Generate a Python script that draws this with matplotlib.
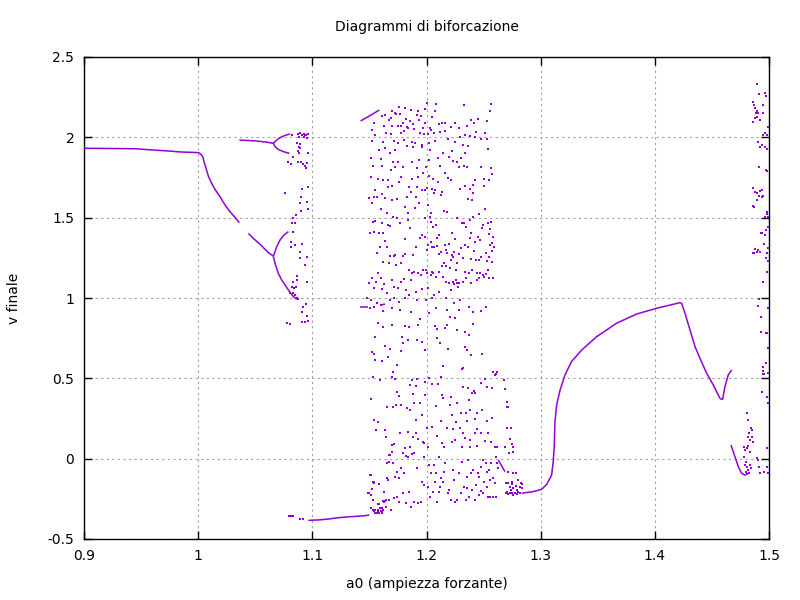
import numpy as np
import matplotlib
matplotlib.use("Agg")
import matplotlib.pyplot as plt

plt.rcParams['font.family'] = ['DejaVu Sans']

COLOR = "#9400D3"

title = "Diagrammi di biforcazione"
xlabel = "a0 (ampiezza forzante)"
ylabel = "v finale"
xticks = [0.9, 1.0, 1.1, 1.2, 1.3, 1.4, 1.5]
xtick_labels = ["0.9", "1", "1.1", "1.2", "1.3", "1.4", "1.5"]
yticks = [-0.5, 0, 0.5, 1, 1.5, 2, 2.5]
ytick_labels = ["-0.5", "0", "0.5", "1", "1.5", "2", "2.5"]

# ---- continuous branches (x, v) ----
branch_main = [(0.9, 1.932), (0.9447, 1.929), (0.9607, 1.921), (0.9739, 1.915), (0.9841, 1.909),
               (1.0002, 1.905), (1.0022, 1.896), (1.004, 1.880), (1.0051, 1.849), (1.0069, 1.807),
               (1.0089, 1.759), (1.0118, 1.714), (1.0148, 1.676), (1.0191, 1.631), (1.0235, 1.579),
               (1.0279, 1.537), (1.0323, 1.502), (1.0361, 1.469)]
branch_mid = [(1.044, 1.402), (1.0483, 1.371), (1.0542, 1.334), (1.0586, 1.303), (1.0615, 1.282),
              (1.0644, 1.268), (1.0659, 1.26)]
branch_mid_up = [(1.0659, 1.26), (1.0688, 1.319), (1.0717, 1.361), (1.0752, 1.392), (1.079, 1.413)]
branch_mid_low = [(1.0659, 1.26), (1.0673, 1.216), (1.0702, 1.153), (1.0732, 1.112), (1.0761, 1.081),
                  (1.079, 1.050), (1.0834, 1.008), (1.0863, 0.992)]
branch_top = [(1.0361, 1.983), (1.0500, 1.978), (1.0600, 1.970), (1.0659, 1.963)]
branch_top_up = [(1.0659, 1.963), (1.0688, 1.983), (1.0717, 1.998), (1.0761, 2.012), (1.0805, 2.021)]
branch_top_low = [(1.0659, 1.963), (1.0673, 1.942), (1.0702, 1.925), (1.0746, 1.911), (1.0799, 1.900)]
branch_bottom = [(1.0965, -0.384), (1.1061, -0.381), (1.114, -0.376), (1.1207, -0.369),
                 (1.1295, -0.363), (1.1447, -0.356), (1.1499, -0.351)]
branch_win_top = [(1.1423, 2.102), (1.1500, 2.133), (1.1587, 2.170)]
branch_win_mid = [(1.1417, 0.942), (1.1490, 0.942)]
branch_win_mid2 = [(1.1592, 0.956), (1.1636, 0.962)]
branch_diag = [(1.2629, -0.008), (1.2687, -0.081)]
branch_rise = [(1.2833, -0.216), (1.2863, -0.212), (1.2935, -0.205), (1.3009, -0.191), (1.3053, -0.160),
               (1.3096, -0.102), (1.311, -0.019), (1.3119, 0.074), (1.3125, 0.230), (1.314, 0.334),
               (1.317, 0.427), (1.3213, 0.521), (1.327, 0.604), (1.3359, 0.676), (1.349, 0.759),
               (1.3665, 0.843), (1.384, 0.900), (1.4016, 0.936), (1.422, 0.971), (1.4235, 0.967),
               (1.4264, 0.905), (1.4308, 0.801), (1.4352, 0.697), (1.4395, 0.625), (1.4454, 0.531),
               (1.4512, 0.459), (1.457, 0.376), (1.4585, 0.370), (1.4594, 0.370), (1.4614, 0.448),
               (1.4643, 0.521), (1.4673, 0.552)]
branch_v2 = [(1.4667, 0.085), (1.4702, 0.012), (1.4731, -0.05), (1.476, -0.091), (1.479, -0.102),
             (1.4819, -0.091)]

branches = [branch_main, branch_mid, branch_mid_up, branch_mid_low, branch_top, branch_top_up,
            branch_top_low, branch_bottom, branch_win_top, branch_win_mid, branch_win_mid2,
            branch_diag, branch_rise, branch_v2]

# ---- scattered (chaotic) points ----
chaos_left = [(1.0874, 2.021), (1.0896, 2.025), (1.0911, 2.015), (1.0925, 2.019), (1.0939, 2.015),
              (1.0948, 2.017), (1.0962, 2.019), (1.0819, 2.017), (1.0881, 2.004), (1.0931, 2.004),
              (1.0953, 1.994), (1.0869, 1.963), (1.0894, 1.956), (1.0884, 1.942), (1.0889, 1.932),
              (1.0876, 1.917), (1.0887, 1.900), (1.0959, 1.900), (1.0834, 1.876), (1.079, 1.849),
              (1.081, 1.834), (1.0872, 1.849), (1.0897, 1.849), (1.0916, 1.834), (1.0936, 1.822),
              (1.0951, 1.838), (1.0947, 1.807), (1.0761, 1.651), (1.0907, 1.676), (1.0959, 1.689),
              (1.0951, 1.600), (1.0903, 1.631), (1.0892, 1.589), (1.0959, 1.552), (1.0901, 1.541),
              (1.0857, 1.517), (1.0834, 1.496), (1.0848, 1.469), (1.0819, 1.469), (1.0834, 1.413),
              (1.0813, 1.351), (1.0816, 1.319), (1.0848, 1.330), (1.0907, 1.336), (1.0892, 1.288),
              (1.0896, 1.247), (1.0956, 1.253), (1.0936, 1.205), (1.0863, 1.137), (1.0867, 1.112),
              (1.0834, 1.102), (1.0819, 1.066), (1.0838, 1.060), (1.0857, 1.066), (1.0805, 1.033),
              (1.0834, 1.029), (1.0848, 1.019), (1.0863, 0.998), (1.0878, 0.992), (1.0945, 0.963),
              (1.0921, 0.942), (1.0907, 0.915), (1.0956, 0.888), (1.0907, 0.853), (1.0936, 0.853),
              (1.0965, 0.857), (1.0775, 0.846), (1.0805, 0.838), (1.0956, 1.102),
              (1.0798, -0.355), (1.0813, -0.356), (1.0828, -0.359), (1.0892, -0.378), (1.0921, -0.378)]

chaos_main_top = [
    (1.1761, 2.187), (1.1812, 2.185), (1.2003, 2.212), (1.2083, 2.208), (1.2331, 2.201), (1.2566, 2.205),
    (1.1694, 2.166), (1.1721, 2.151), (1.1866, 2.170), (1.1925, 2.163), (1.1991, 2.174), (1.2071, 2.166),
    (1.1611, 2.133), (1.1638, 2.141), (1.1737, 2.145), (1.1769, 2.147), (1.1913, 2.139), (1.1948, 2.131),
    (1.2052, 2.127), (1.2389, 2.108), (1.2447, 2.112), (1.2529, 2.104), (1.2553, 2.166),
    (1.1537, 2.091), (1.1672, 2.106), (1.1693, 2.118), (1.1821, 2.112), (1.1852, 2.102), (1.1934, 2.110),
    (1.1795, 2.089), (1.1878, 2.083), (1.1985, 2.087), (1.2107, 2.081), (1.2137, 2.091), (1.2165, 2.091),
    (1.2252, 2.089), (1.2412, 2.087), (1.2359, 2.072), (1.1627, 2.070), (1.1701, 2.068), (1.1749, 2.072),
    (1.1781, 2.070), (1.1829, 2.064), (1.1838, 2.058), (1.1891, 2.054), (1.1969, 2.056), (1.2029, 2.058),
    (1.2041, 2.043), (1.2121, 2.035), (1.2158, 2.041), (1.2217, 2.066), (1.1521, 2.046), (1.1546, 2.016),
    (1.1641, 2.025), (1.1686, 2.023), (1.1774, 2.029), (1.1807, 2.037), (1.1941, 2.025), (1.1978, 2.021),
    (1.2012, 2.019), (1.2066, 2.029), (1.2284, 2.056), (1.2377, 2.008), (1.2421, 2.004), (1.2431, 2.031),
    (1.2509, 2.025), (1.2339, 2.014),
    (1.1527, 1.979), (1.1619, 1.973), (1.1712, 1.979), (1.1746, 1.967), (1.1803, 1.983), (1.1873, 1.973),
    (1.1897, 1.967), (1.1962, 1.952), (1.2019, 1.963), (1.2074, 1.977), (1.2189, 1.988), (1.2248, 1.973),
    (1.2296, 2.000), (1.2318, 1.952), (1.2366, 1.946), (1.2481, 1.988), (1.2527, 1.988), (1.1581, 1.921),
    (1.1635, 1.931), (1.1728, 1.921), (1.1677, 1.904), (1.1833, 1.946), (1.1881, 1.942), (1.1957, 1.938),
    (1.2031, 1.921), (1.2146, 1.900), (1.2227, 1.915), (1.2334, 1.904), (1.2542, 1.925), (1.1511, 1.869),
    (1.1603, 1.863), (1.1708, 1.848), (1.1752, 1.848), (1.1872, 1.848), (1.1936, 1.859), (1.2023, 1.859),
    (1.2098, 1.869), (1.2193, 1.880), (1.2271, 1.848), (1.2302, 1.869),
    (1.1533, 1.821), (1.1609, 1.821), (1.1724, 1.813), (1.1796, 1.817), (1.1918, 1.807), (1.1689, 1.797),
    (1.1966, 1.780), (1.1992, 1.813), (1.2118, 1.821), (1.2158, 1.776), (1.2236, 1.855), (1.2281, 1.817),
    (1.2327, 1.821), (1.2351, 1.813), (1.2478, 1.813), (1.2561, 1.807), (1.2577, 1.772), (1.1515, 1.751),
    (1.1576, 1.743), (1.1622, 1.734), (1.1664, 1.734), (1.1758, 1.724), (1.1778, 1.751), (1.1869, 1.743),
    (1.1929, 1.751), (1.2026, 1.759), (1.2058, 1.738), (1.2103, 1.724), (1.2186, 1.745), (1.2214, 1.734),
    (1.2426, 1.734), (1.2502, 1.738), (1.2549, 1.734), (1.2508, 1.699), (1.2404, 1.703), (1.2336, 1.697),
    (1.1548, 1.672), (1.1666, 1.689), (1.1696, 1.697), (1.1847, 1.693), (1.1921, 1.693), (1.2004, 1.683),
    (1.2048, 1.676), (1.2071, 1.672), (1.2139, 1.662), (1.2291, 1.676), (1.2384, 1.676), (1.1607, 1.647),
    (1.1563, 1.631), (1.1541, 1.626), (1.1494, 1.620), (1.1638, 1.620), (1.1697, 1.610), (1.1739, 1.614),
    (1.1826, 1.626), (1.1866, 1.662), (1.1912, 1.631), (1.1958, 1.672), (1.1983, 1.672), (1.2062, 1.651),
    (1.2131, 1.641), (1.2361, 1.614), (1.2397, 1.610), (1.2403, 1.651), (1.1519, 1.593), (1.1933, 1.589),
    (1.2017, 1.579),
    (1.1598, 1.554), (1.1811, 1.568), (1.1895, 1.558), (1.1651, 1.527), (1.1703, 1.506), (1.1741, 1.496),
    (1.1838, 1.527), (1.2036, 1.527), (1.2029, 1.506), (1.2157, 1.543), (1.2183, 1.537), (1.2409, 1.506),
    (1.2456, 1.523), (1.2513, 1.554), (1.1552, 1.481), (1.1532, 1.475), (1.1613, 1.465), (1.1663, 1.454),
    (1.1768, 1.469), (1.1842, 1.485), (1.1987, 1.496), (1.2042, 1.475), (1.2263, 1.496), (1.2329, 1.469),
    (1.2379, 1.485), (1.2497, 1.452), (1.2537, 1.465), (1.2568, 1.475), (1.2558, 1.427),
    (1.1508, 1.402), (1.1542, 1.413), (1.1583, 1.402), (1.1621, 1.402), (1.1682, 1.448), (1.1856, 1.433),
    (1.2061, 1.444), (1.2079, 1.454), (1.2219, 1.402), (1.2311, 1.465), (1.2344, 1.444), (1.2393, 1.402),
    (1.2482, 1.438), (1.2468, 1.361), (1.2544, 1.398), (1.2579, 1.377), (1.1637, 1.357), (1.1816, 1.365),
    (1.1943, 1.371), (1.1964, 1.392), (1.1991, 1.382), (1.2039, 1.350), (1.2106, 1.392), (1.2088, 1.371),
    (1.2163, 1.330), (1.2198, 1.336), (1.2251, 1.365), (1.2338, 1.330), (1.2381, 1.371), (1.2427, 1.350),
    (1.2451, 1.382), (1.2556, 1.330), (1.2589, 1.319), (1.2573, 1.344),
    (1.1589, 1.315), (1.1655, 1.319), (1.1566, 1.282), (1.1679, 1.261), (1.1711, 1.261), (1.1726, 1.265),
    (1.1791, 1.261), (1.1809, 1.274), (1.1884, 1.270), (1.1906, 1.319), (1.2014, 1.330), (1.2001, 1.299),
    (1.2044, 1.319), (1.2069, 1.319), (1.2096, 1.324), (1.2126, 1.288), (1.2109, 1.274), (1.2174, 1.299),
    (1.2181, 1.282), (1.2224, 1.268), (1.2243, 1.288), (1.2286, 1.274), (1.2301, 1.309), (1.2364, 1.319),
    (1.2418, 1.294), (1.2474, 1.257), (1.2518, 1.278), (1.2551, 1.257), (1.2578, 1.294), (1.2271, 1.216),
    (1.2316, 1.247), (1.2387, 1.240), (1.2433, 1.236), (1.2459, 1.236), (1.2534, 1.232), (1.2571, 1.226),
    (1.2228, 1.253), (1.2153, 1.216), (1.2213, 1.236), (1.1616, 1.226), (1.1669, 1.216), (1.1733, 1.205),
    (1.1776, 1.216), (1.1851, 1.174), (1.1891, 1.164), (1.1968, 1.174), (1.2008, 1.157), (1.2051, 1.164),
    (1.2112, 1.164), (1.2134, 1.199), (1.2169, 1.199), (1.2206, 1.184), (1.2258, 1.174), (1.2333, 1.164),
    (1.2373, 1.157), (1.2401, 1.174), (1.2446, 1.153), (1.2471, 1.157), (1.2491, 1.143), (1.2549, 1.122),
    (1.2538, 1.174), (1.2581, 1.122),
    (1.1497, 1.095), (1.1571, 1.157), (1.1526, 1.122), (1.1558, 1.102), (1.1601, 1.122), (1.1629, 1.087),
    (1.1702, 1.112), (1.1779, 1.102), (1.1803, 1.116), (1.1864, 1.112), (1.1877, 1.153), (1.1922, 1.153),
    (1.1949, 1.143), (1.1994, 1.174), (1.2036, 1.143), (1.2057, 1.157), (1.2081, 1.133), (1.2141, 1.133),
    (1.2168, 1.102), (1.2197, 1.095), (1.2229, 1.102), (1.2241, 1.087), (1.2256, 1.112), (1.2266, 1.095),
    (1.2288, 1.091), (1.2346, 1.122), (1.2391, 1.091), (1.2444, 1.112), (1.2462, 1.122), (1.2504, 1.133),
    (1.2521, 1.149), (1.1539, 1.060), (1.1614, 1.054), (1.1657, 1.029), (1.1718, 1.070), (1.1747, 1.060),
    (1.1818, 1.050), (1.1847, 1.018), (1.1908, 1.039), (1.1961, 1.054), (1.2009, 1.060), (1.2064, 1.018),
    (1.2111, 1.039), (1.2211, 1.050), (1.2273, 1.070), (1.2319, 1.102), (1.1481, 0.998), (1.1512, 0.987),
    (1.1569, 0.967), (1.1603, 0.956), (1.1676, 0.987), (1.1714, 0.998), (1.1763, 0.977), (1.1816, 0.998),
    (1.1919, 0.987), (1.1996, 0.987), (1.2052, 0.998), (1.2172, 0.998), (1.2244, 0.967), (1.2297, 0.987),
    (1.1506, 0.936), (1.1538, 0.946), (1.1618, 0.921), (1.1699, 0.936), (1.1771, 0.925), (1.1868, 0.915),
    (1.1939, 0.867), (1.2019, 0.904), (1.2086, 0.936), (1.2178, 0.925), (1.2202, 0.884), (1.2253, 0.873),
    (1.2289, 0.925), (1.2368, 0.946), (1.2407, 0.915), (1.2473, 0.921), (1.2524, 0.946)]

chaos_main_bottom = [
    (1.1571, 0.847), (1.1618, 0.817), (1.1702, 0.832), (1.1808, 0.826), (1.1851, 0.817), (1.1929, 0.832),
    (1.2077, 0.826), (1.2091, 0.805), (1.2158, 0.811), (1.2176, 0.832), (1.2263, 0.801), (1.2338, 0.790),
    (1.2369, 0.770), (1.2407, 0.838), (1.1552, 0.759), (1.1783, 0.755), (1.1837, 0.739), (1.1796, 0.718),
    (1.1914, 0.739), (1.1957, 0.728), (1.2089, 0.749), (1.2121, 0.718), (1.2341, 0.693), (1.2352, 0.676),
    (1.1639, 0.701), (1.1681, 0.680), (1.1527, 0.666), (1.1536, 0.651), (1.1548, 0.614), (1.1607, 0.608),
    (1.1666, 0.635), (1.1779, 0.670), (1.1988, 0.676), (1.2191, 0.680), (1.2388, 0.645), (1.2483, 0.651),
    (1.1741, 0.583), (1.1709, 0.541), (1.2147, 0.577), (1.2308, 0.556), (1.2319, 0.562), (1.2584, 0.541),
    (1.2617, 0.541), (1.2603, 0.521), (1.2611, 0.527),
    (1.1533, 0.506), (1.1592, 0.490), (1.1697, 0.506), (1.1728, 0.498), (1.1871, 0.490), (1.1921, 0.496),
    (1.1986, 0.479), (1.2024, 0.500), (1.2131, 0.506), (1.1739, 0.417), (1.1758, 0.390), (1.1853, 0.458),
    (1.1911, 0.452), (1.1884, 0.402), (1.2046, 0.465), (1.2103, 0.465), (1.2132, 0.396), (1.2148, 0.375),
    (1.2216, 0.382), (1.2366, 0.438), (1.2412, 0.423), (1.2324, 0.448), (1.2371, 0.365), (1.2398, 0.407),
    (1.2427, 0.407), (1.2481, 0.469), (1.2513, 0.494), (1.2534, 0.444), (1.2572, 0.438), (1.2682, 0.490),
    (1.2687, 0.432), (1.1518, 0.369), (1.1651, 0.319), (1.1708, 0.319), (1.1736, 0.334), (1.1781, 0.334),
    (1.1826, 0.313), (1.1859, 0.303), (1.1889, 0.344), (1.1942, 0.344), (1.1987, 0.396), (1.2087, 0.328),
    (1.2207, 0.334), (1.2263, 0.344), (1.2301, 0.282), (1.2348, 0.282), (1.2383, 0.303), (1.2438, 0.286),
    (1.2487, 0.303), (1.2526, 0.236), (1.2578, 0.251), (1.2702, 0.355), (1.2702, 0.324), (1.2717, 0.319),
    (1.1957, 0.272), (1.1911, 0.241), (1.2049, 0.199), (1.2003, 0.189), (1.2126, 0.236), (1.2178, 0.189),
    (1.2221, 0.272), (1.2261, 0.230), (1.2236, 0.183), (1.2291, 0.189), (1.2338, 0.126), (1.2317, 0.162),
    (1.2359, 0.236), (1.2423, 0.245), (1.2446, 0.183), (1.2427, 0.158), (1.2479, 0.162), (1.1536, 0.241),
    (1.1578, 0.230), (1.1557, 0.178), (1.1636, 0.178), (1.1649, 0.137), (1.1712, 0.091), (1.1694, 0.085),
    (1.1767, 0.158), (1.1839, 0.168), (1.1886, 0.137), (1.1908, 0.158), (1.1922, 0.120), (1.1971, 0.106),
    (1.1979, 0.100), (1.2017, 0.075), (1.2094, 0.141), (1.2134, 0.095), (1.2151, 0.075), (1.2219, 0.106),
    (1.2252, 0.116), (1.2307, 0.075), (1.2378, 0.116), (1.2384, 0.075), (1.2441, 0.079), (1.2511, 0.112),
    (1.2541, 0.162), (1.2563, 0.106), (1.2596, 0.075), (1.2619, 0.075), (1.2709, 0.189), (1.2738, 0.189),
    (1.2731, 0.120), (1.2746, 0.091), (1.276, 0.075), (1.276, 0.044), (1.2687, 0.075), (1.2725, 0.033),
    (1.1512, -0.102), (1.1541, -0.143), (1.1678, 0.023), (1.1696, 0.044), (1.1812, 0.064), (1.1798, 0.033),
    (1.1834, 0.012), (1.1852, 0.075), (1.1869, 0.029), (1.1891, 0.037), (1.1657, -0.029), (1.1706, -0.025),
    (1.1723, -0.112), (1.1744, -0.081), (1.1761, -0.122), (1.1773, -0.060), (1.1806, -0.091),
    (1.1821, 0.017), (1.1917, -0.060), (1.1974, 0.012), (1.2026, -0.040), (1.2043, -0.091), (1.2068, -0.040),
    (1.2082, -0.091), (1.2112, 0.012), (1.2127, -0.122), (1.2166, -0.029), (1.2152, -0.081),
    (1.2231, -0.071), (1.2242, -0.133), (1.2286, -0.091), (1.2314, -0.019), (1.2363, -0.008),
    (1.2358, -0.112), (1.2394, -0.091), (1.2404, -0.071), (1.2448, -0.087), (1.2476, -0.050),
    (1.2491, -0.008), (1.2502, -0.143), (1.2521, -0.029), (1.2548, -0.071), (1.2566, -0.025),
    (1.2607, 0.012), (1.2614, -0.029), (1.2623, -0.060), (1.2579, -0.122), (1.2604, -0.150), (1.2553, -0.133),
    (1.2534, -0.081), (1.2463, -0.112), (1.2717, -0.081), (1.276, -0.087), (1.2784, -0.087),
    (1.1497, -0.216), (1.1529, -0.257), (1.1546, -0.320), (1.1571, -0.330), (1.1584, -0.282),
    (1.1598, -0.324), (1.1611, -0.309), (1.1628, -0.268), (1.1643, -0.257), (1.1674, -0.257),
    (1.1688, -0.320), (1.1717, -0.247), (1.1741, -0.237), (1.1759, -0.268), (1.1791, -0.216),
    (1.1818, -0.278), (1.1849, -0.205), (1.1864, -0.303), (1.1893, -0.268), (1.1926, -0.278),
    (1.1951, -0.268), (1.1963, -0.143), (1.1981, -0.164), (1.2012, -0.174), (1.2034, -0.237),
    (1.2053, -0.205), (1.2071, -0.143), (1.2096, -0.268), (1.2109, -0.205), (1.2122, -0.174),
    (1.2143, -0.143), (1.2184, -0.216), (1.2197, -0.195), (1.2212, -0.257), (1.2246, -0.268),
    (1.2271, -0.257), (1.2298, -0.216), (1.2327, -0.174), (1.2344, -0.257), (1.2376, -0.237),
    (1.2399, -0.195), (1.2421, -0.257), (1.2436, -0.164), (1.2457, -0.226), (1.2473, -0.199),
    (1.2496, -0.216), (1.2531, -0.174), (1.2543, -0.237), (1.2559, -0.237), (1.2582, -0.237),
    (1.2611, -0.237), (1.2356, -0.185),
    (1.1505, -0.101), (1.1534, -0.143), (1.1543, -0.149), (1.1587, -0.16), (1.1525, -0.191),
    (1.149, -0.216), (1.1517, -0.228), (1.163, -0.205), (1.1622, -0.261), (1.164, -0.261),
    (1.1657, -0.122), (1.1666, -0.135), (1.1657, -0.029), (1.1674, -0.018), (1.1674, 0.023),
    (1.1578, -0.284), (1.1517, -0.305), (1.1534, -0.319), (1.1543, -0.326), (1.1552, -0.34),
    (1.1563, -0.34), (1.1578, -0.319), (1.1593, -0.309), (1.1607, -0.326), (1.1622, -0.319),
    (1.1645, -0.299), (1.1587, -0.336), (1.1613, -0.34),
    (1.2693, -0.154), (1.2702, -0.205), (1.2717, -0.150), (1.2731, -0.174), (1.2746, -0.143),
    (1.276, -0.185), (1.2775, -0.212), (1.279, -0.195), (1.2804, -0.205), (1.2819, -0.174),
    (1.2833, -0.185), (1.2696, -0.212), (1.2717, -0.220), (1.2731, -0.212), (1.2746, -0.216),
    (1.276, -0.226), (1.2775, -0.216), (1.279, -0.222), (1.2819, -0.212), (1.2828, -0.154),
    (1.2804, -0.133), (1.2833, -0.158), (1.2737, -0.195), (1.2784, -0.170), (1.2752, -0.158)]

chaos_right = [
    (1.4897, 2.332), (1.4915, 2.270), (1.4968, 2.274), (1.4973, 2.257), (1.495, 2.201), (1.4862, 2.218),
    (1.4868, 2.201), (1.4877, 2.180), (1.4886, 2.153), (1.4897, 2.166), (1.4906, 2.149), (1.4892, 2.129),
    (1.4921, 2.108), (1.4857, 2.097), (1.4877, 2.118), (1.4944, 2.153), (1.4994, 2.062), (1.4965, 2.025),
    (1.495, 2.015), (1.4985, 2.015), (1.4906, 1.973), (1.4921, 1.942), (1.4935, 1.952), (1.4965, 1.938),
    (1.4979, 1.925), (1.4915, 1.813), (1.4973, 1.797), (1.4985, 1.792), (1.4862, 1.682), (1.4877, 1.662),
    (1.4892, 1.655), (1.4921, 1.668), (1.4935, 1.672), (1.4915, 1.635), (1.4935, 1.626), (1.495, 1.635),
    (1.4897, 1.610), (1.4857, 1.573), (1.4868, 1.564), (1.4979, 1.537), (1.4985, 1.523), (1.4965, 1.506),
    (1.4994, 1.506), (1.4994, 1.444), (1.4973, 1.423), (1.4935, 1.407), (1.4927, 1.402), (1.4965, 1.392),
    (1.4956, 1.336), (1.4857, 1.278), (1.4868, 1.282), (1.4877, 1.303), (1.4892, 1.288), (1.4906, 1.299),
    (1.4921, 1.288), (1.4994, 1.309), (1.4985, 1.282), (1.4973, 1.247), (1.4994, 1.232), (1.4985, 1.164),
    (1.495, 1.101), (1.4915, 0.991), (1.4906, 0.950), (1.4994, 0.935), (1.4927, 0.879), (1.493, 0.790),
    (1.4973, 0.784), (1.4985, 0.784), (1.4994, 0.686), (1.4973, 0.597), (1.4944, 0.568), (1.495, 0.547),
    (1.4944, 0.527), (1.4956, 0.527), (1.4994, 0.531), (1.4935, 0.417), (1.4985, 0.385), (1.4994, 0.344),
    (1.4804, 0.282), (1.4819, 0.240), (1.4839, 0.188), (1.4848, 0.178), (1.4827, 0.157), (1.4819, 0.137),
    (1.4848, 0.137), (1.4833, 0.116), (1.4862, 0.105), (1.4819, 0.078), (1.4804, 0.064), (1.4833, 0.043),
    (1.4784, 0.074), (1.4792, 0.054), (1.4781, 0.012), (1.4798, -0.019), (1.4789, -0.040), (1.4804, -0.050),
    (1.4819, -0.071), (1.4833, -0.040), (1.4839, -0.061), (1.4798, -0.081), (1.481, -0.096),
    (1.4827, -0.092), (1.4892, 0.002), (1.4906, -0.009), (1.4915, -0.050), (1.4921, -0.092),
    (1.4956, -0.081), (1.4985, 0.064), (1.4985, -0.050), (1.4994, -0.092)]

# ---- figure ----
fig = plt.figure(figsize=(8, 6), dpi=100)
ax = fig.add_axes([84 / 800, 61 / 600, 685 / 800, 482 / 600])

for br in branches:
    arr = np.array(br)
    ax.plot(arr[:, 0], arr[:, 1], color=COLOR, lw=1.1, solid_capstyle='butt', zorder=3)

for pts in (chaos_left, chaos_main_top, chaos_main_bottom, chaos_right):
    arr = np.array(pts)
    ax.scatter(arr[:, 0], arr[:, 1], s=1.5, marker='s', color=COLOR, linewidths=0, zorder=3)

ax.set_xlim(0.9, 1.5)
ax.set_ylim(-0.5, 2.5)
ax.set_xticks(xticks)
ax.set_xticklabels(xtick_labels)
ax.set_yticks(yticks)
ax.set_yticklabels(ytick_labels)
ax.grid(True, color="#a0a0a0", linestyle=(0, (2, 3)), linewidth=0.8)
ax.tick_params(direction='in', length=6, width=1, top=True, right=True, labelsize=10,
               pad=7, colors='black')
for sp in ax.spines.values():
    sp.set_linewidth(1.0)
ax.set_title(title, fontsize=10, pad=19)
ax.set_xlabel(xlabel, fontsize=10, labelpad=10)
ax.set_ylabel(ylabel, fontsize=10, labelpad=19)

fig.savefig("out.png", dpi=100)
